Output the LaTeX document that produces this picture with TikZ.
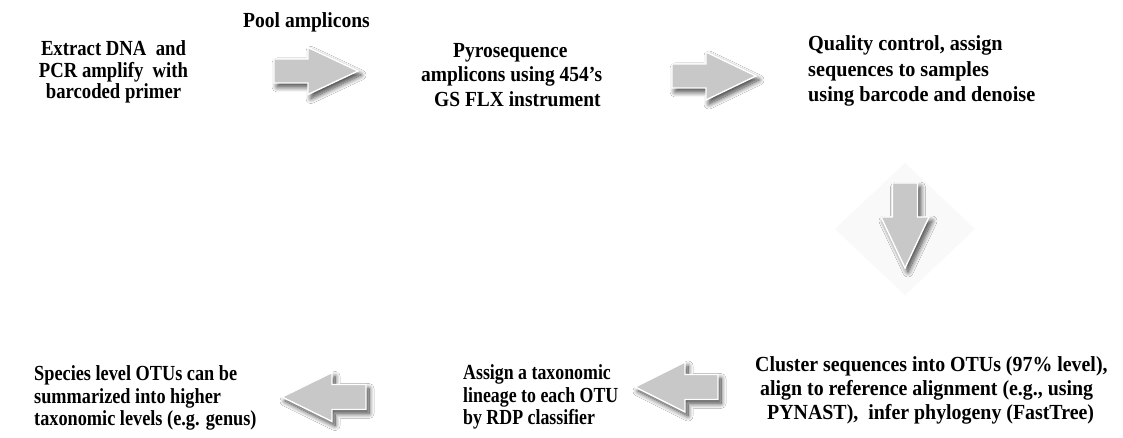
\documentclass[tikz,border=0pt]{standalone}
\usepackage{fontspec}
\setmainfont{Liberation Serif}
\usetikzlibrary{shadows.blur}
\definecolor{arrowgray}{HTML}{C8C8C8}
\definecolor{haze}{HTML}{F9F9F9}
\newcommand\lblf[2]{\bfseries\fontsize{21.5}{#2}\selectfont\addfontfeature{FakeStretch=#1}}
\tikzset{
  blockarrow/.style={fill=arrowgray, draw=white, line width=1.4pt, line join=miter,
    blur shadow={shadow xshift=3pt, shadow yshift=-4pt, shadow blur steps=12,
      shadow blur radius=5pt, shadow opacity=75}},
  lbl/.style={inner sep=0pt},
}
\begin{document}
\begin{tikzpicture}[x=1pt,y=-1pt]
\useasboundingbox (0,0) rectangle (1123,438);
\fill[white] (0,0) rectangle (1123,438);
% faint diamond halo behind the down arrow
\fill[haze] (905,163) -- (975,229) -- (905,295) -- (835,229) -- cycle;

% text blocks
\node[lbl, align=center, font=\lblf{0.87}{21.5}] (extract) at (113.5,72) {Extract DNA\ \ and\\PCR amplify\ \ with\\barcoded primer};
\node[lbl, font=\lblf{0.91}{21.5}] (pool) at (306.5,22) {Pool amplicons};
\node[lbl, align=left, anchor=west, font=\lblf{0.905}{24.5}] (pyro) at (421,75) {\hspace*{32pt}Pyrosequence\\amplicons using 454’s\\\hspace*{13pt}GS FLX instrument};
\node[lbl, align=left, anchor=west, font=\lblf{0.94}{25.5}] (qc) at (808,71) {Quality control, assign\\sequences to samples\\using barcode and denoise};
\node[lbl, align=left, anchor=west, font=\lblf{0.925}{24}] (cluster) at (755,390) {Cluster sequences into OTUs (97\% level),\\\hspace*{5pt}align to reference alignment (e.g., using\\\hspace*{12pt}PYNAST),\ \ infer phylogeny (FastTree)};
\node[lbl, align=left, anchor=west, font=\lblf{0.83}{22.5}] (assign) at (463,397) {Assign a taxonomic\\lineage to each OTU\\by RDP classifier};
\node[lbl, align=left, anchor=west, font=\lblf{0.85}{22.5}] (species) at (34,398) {Species level OTUs can be\\summarized into higher\\taxonomic levels (e.g. genus)};

% arrow tails
\coordinate (t1) at (274,71);
\coordinate (t2) at (672,76);
\coordinate (t3) at (905,183);
\coordinate (t4) at (366,397);
\coordinate (t5) at (718,387);

% right arrows
\path[blockarrow] (t1) ++(0,-12) -- ++(34,0) -- ++(0,-11.5) -- ++(50,23.5) -- ++(-50,23.5) -- ++(0,-11.5) -- ++(-34,0) -- cycle;
\path[blockarrow] (t2) ++(0,-12) -- ++(34,0) -- ++(0,-12) -- ++(50,24) -- ++(-50,24) -- ++(0,-12) -- ++(-34,0) -- cycle;
% down arrow
\path[blockarrow] (t3) ++(-12.5,0) -- ++(0,34) -- ++(-11.5,0) -- ++(24,51) -- ++(24,-51) -- ++(-11.5,0) -- ++(0,-34) -- cycle;
% left arrows
\path[blockarrow] (t4) ++(0,-12.5) -- ++(-34,0) -- ++(0,-12) -- ++(-50,24.5) -- ++(50,24.5) -- ++(0,-12) -- ++(34,0) -- cycle;
\path[blockarrow] (t5) ++(0,-12.5) -- ++(-33,0) -- ++(0,-12.5) -- ++(-50,25) -- ++(50,25) -- ++(0,-12.5) -- ++(33,0) -- cycle;
\end{tikzpicture}
\end{document}
